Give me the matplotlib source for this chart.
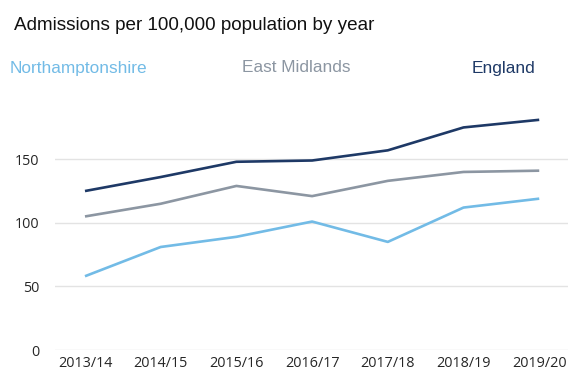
import matplotlib
matplotlib.use("Agg")
import matplotlib.pyplot as plt

years = ["2013/14", "2014/15", "2015/16", "2016/17", "2017/18", "2018/19", "2019/20"]
northamptonshire = [58, 81, 89, 101, 85, 112, 119]
east_midlands = [105, 115, 129, 121, 133, 140, 141]
england = [125, 136, 148, 149, 157, 175, 181]
y_ticks = [0, 50, 100, 150]

series = [
    ("Northamptonshire", northamptonshire, "#72bbe6"),
    ("East Midlands", east_midlands, "#8c96a2"),
    ("England", england, "#1e3966"),
]

fig = plt.figure(figsize=(5.68, 3.72), dpi=100)
fig.patch.set_facecolor("white")
ax = fig.add_axes([55 / 568, 22 / 372, 513 / 568, 248 / 372])

x = list(range(len(years)))
for name, values, color in series:
    ax.plot(x, values, color=color, linewidth=1.9, solid_capstyle="butt", zorder=3)

ax.set_xlim(-0.396, 6.38)
ax.set_ylim(0, 195)
ax.set_yticks(y_ticks)
ax.set_yticklabels([str(v) for v in y_ticks])
ax.set_xticks(x)
ax.set_xticklabels(years)
ax.grid(axis="y", color="#e3e3e3", linewidth=1.0, zorder=0)
for s in ax.spines.values():
    s.set_visible(False)
ax.tick_params(axis="both", length=0, labelsize=10.4, colors="#262626")
ax.tick_params(axis="y", pad=11)
ax.tick_params(axis="x", pad=4)
for lbl in ax.get_xticklabels() + ax.get_yticklabels():
    lbl.set_fontfamily("Open Sans")

fig.text(14 / 568, 1 - 25 / 372, "Admissions per 100,000 population by year",
         fontsize=13.6, family="Liberation Sans", color="#111111", va="center", ha="left")

legend_pos = [10, 242, 472]
for (name, values, color), px in zip(series, legend_pos):
    fig.text(px / 568, 1 - 68 / 372, name, fontsize=12.4, family="Liberation Sans",
             color=color, va="center", ha="left")

fig.savefig("out.png", dpi=100)
